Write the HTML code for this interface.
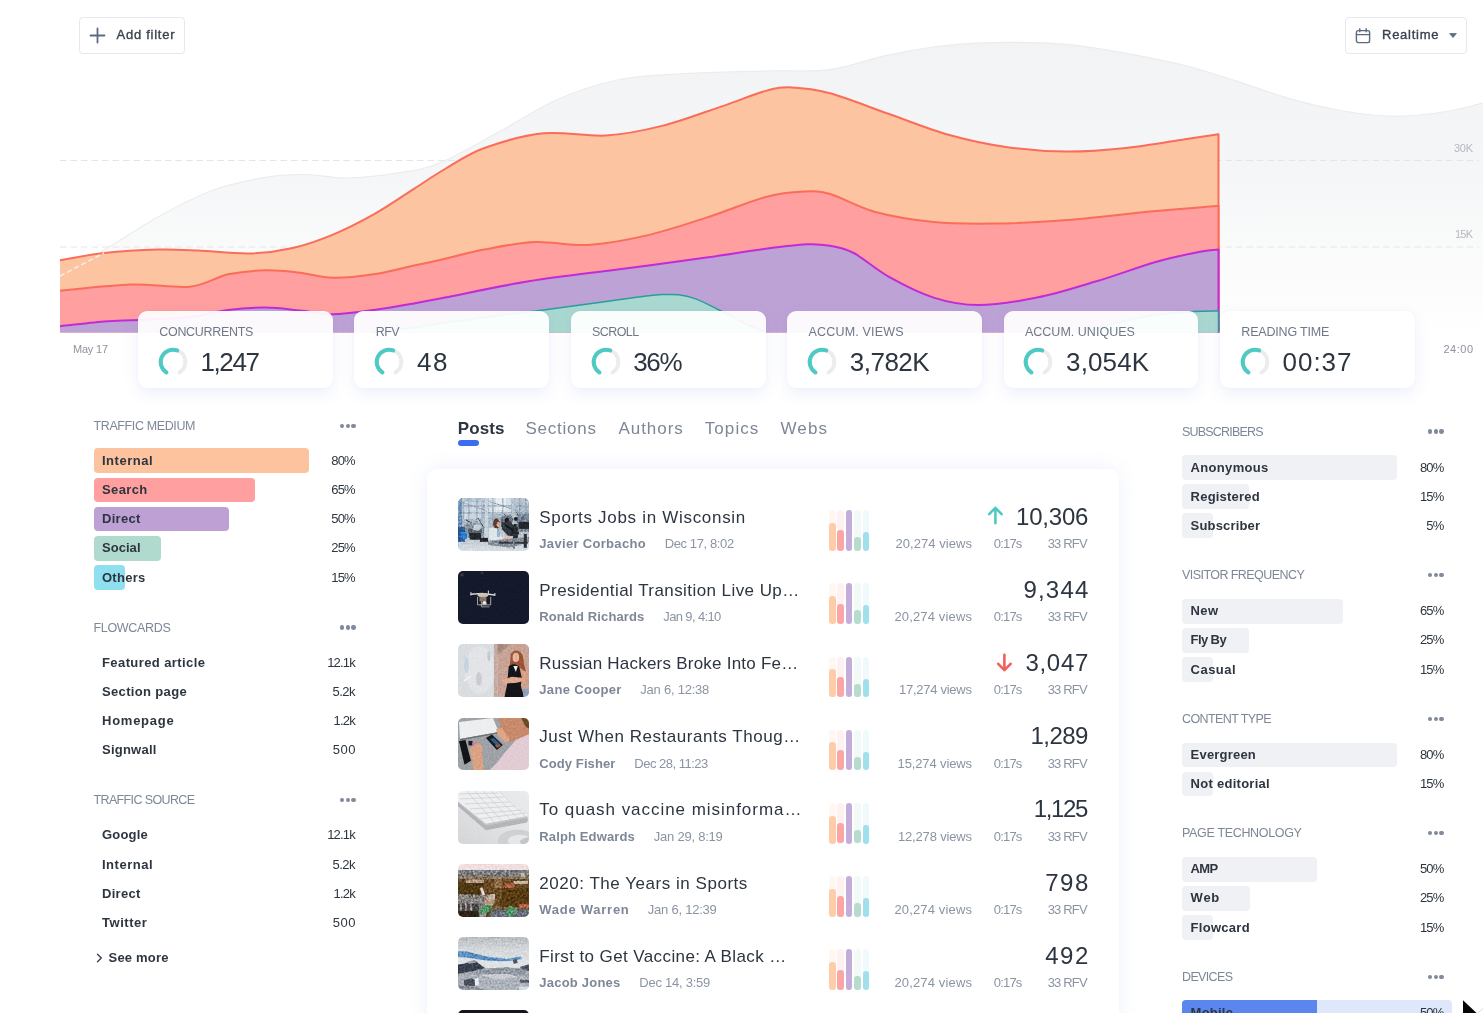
<!DOCTYPE html>
<html lang="en">
<head>
<meta charset="utf-8">
<title>Realtime dashboard</title>
<style>
*{box-sizing:border-box;margin:0;padding:0}
html,body{width:1483px;height:1013px;overflow:hidden;background:#fff}
body{font-family:"Liberation Sans",sans-serif;color:#2d3540}
#root{position:relative;width:1483px;height:1013px;overflow:hidden;background:#fff}
.t{position:absolute;line-height:20px;white-space:nowrap}
.a{position:absolute}
.btn{position:absolute;top:17px;height:37px;border:1px solid #e6e8eb;border-radius:4px;background:#fff}
.card{position:absolute;top:310.8px;width:194.8px;height:77.3px;border-radius:9px;background:rgba(255,255,255,.93);box-shadow:0 5px 16px rgba(86,110,220,.10),0 0 1px rgba(120,130,180,.2)}
.bar{position:absolute;height:24.8px;border-radius:4px}
.g{background:#f0f1f5}
.dots{position:absolute;width:16px;height:5px}
.dots i{position:absolute;top:0;width:4.3px;height:4.3px;border-radius:50%;background:#7f8a9c}
.th{position:absolute;left:457.8px;width:70.8px;height:52.8px;border-radius:5px;overflow:hidden}
.mb{position:absolute;width:6.5px;border-radius:3.3px}
</style>
</head>
<body>
<div id="root">
<svg class="a" style="left:0;top:0" width="1483" height="400" viewBox="0 0 1483 400">
<defs>
<linearGradient id="gg" x1="0" y1="40" x2="0" y2="335" gradientUnits="userSpaceOnUse">
<stop offset="0" stop-color="#f1f3f4"/><stop offset=".45" stop-color="#f5f6f7"/><stop offset="1" stop-color="#ffffff"/>
</linearGradient>
</defs>
<path d="M60.0,276.0C68.5,271.0 94.4,255.8 110.7,246.0C127.0,236.2 141.1,226.2 158.0,217.0C174.9,207.8 194.0,197.1 212.0,190.5C230.0,183.9 250.1,180.0 265.8,177.3C281.5,174.6 292.5,174.4 306.0,174.5C319.5,174.6 330.9,178.3 346.7,178.0C362.5,177.7 385.1,175.1 400.6,172.6C416.2,170.1 423.6,169.7 440.0,162.9C456.4,156.1 479.3,142.4 499.0,131.8C518.7,121.2 538.2,107.8 558.0,99.2C577.8,90.6 597.8,84.2 617.6,80.0C637.4,75.8 652.3,75.5 677.0,74.0C701.7,72.5 740.2,71.7 765.7,71.0C791.2,70.3 809.5,72.3 830.0,69.6C850.5,66.9 869.3,58.8 889.0,54.8C908.7,50.8 928.2,47.4 948.0,45.3C967.8,43.2 987.8,42.5 1007.6,42.4C1027.4,42.2 1047.3,42.6 1067.0,44.4C1086.7,46.2 1106.3,49.8 1126.0,53.3C1145.7,56.8 1166.7,60.9 1185.0,65.5C1203.3,70.1 1218.6,75.4 1236.0,80.9C1253.4,86.4 1271.8,93.6 1289.6,98.6C1307.4,103.6 1325.3,108.0 1343.0,111.0C1360.7,114.0 1378.2,116.4 1396.0,116.4C1413.8,116.4 1433.9,113.6 1449.6,111.0C1465.3,108.4 1483.3,102.7 1490.0,101.0L1490,332.5L60,332.5Z" fill="url(#gg)"/>
<path d="M60.0,276.0C68.5,271.0 94.4,255.8 110.7,246.0C127.0,236.2 141.1,226.2 158.0,217.0C174.9,207.8 194.0,197.1 212.0,190.5C230.0,183.9 250.1,180.0 265.8,177.3C281.5,174.6 292.5,174.4 306.0,174.5C319.5,174.6 330.9,178.3 346.7,178.0C362.5,177.7 385.1,175.1 400.6,172.6C416.2,170.1 423.6,169.7 440.0,162.9C456.4,156.1 479.3,142.4 499.0,131.8C518.7,121.2 538.2,107.8 558.0,99.2C577.8,90.6 597.8,84.2 617.6,80.0C637.4,75.8 652.3,75.5 677.0,74.0C701.7,72.5 740.2,71.7 765.7,71.0C791.2,70.3 809.5,72.3 830.0,69.6C850.5,66.9 869.3,58.8 889.0,54.8C908.7,50.8 928.2,47.4 948.0,45.3C967.8,43.2 987.8,42.5 1007.6,42.4C1027.4,42.2 1047.3,42.6 1067.0,44.4C1086.7,46.2 1106.3,49.8 1126.0,53.3C1145.7,56.8 1166.7,60.9 1185.0,65.5C1203.3,70.1 1218.6,75.4 1236.0,80.9C1253.4,86.4 1271.8,93.6 1289.6,98.6C1307.4,103.6 1325.3,108.0 1343.0,111.0C1360.7,114.0 1378.2,116.4 1396.0,116.4C1413.8,116.4 1433.9,113.6 1449.6,111.0C1465.3,108.4 1483.3,102.7 1490.0,101.0" fill="none" stroke="#ececee" stroke-width="1.2"/>
<path d="M60,160.5H1479M60,247H1479" stroke="#e3e5e7" stroke-width="1.2" stroke-dasharray="6.5 4" fill="none"/>
<path d="M60.0,260.3C67.3,259.1 87.7,254.8 104.0,253.0C120.3,251.2 142.3,249.9 158.0,249.5C173.7,249.1 182.7,249.8 198.0,250.5C213.3,251.2 233.8,253.9 249.6,253.5C265.4,253.1 278.8,251.2 292.7,248.0C306.6,244.8 319.5,240.2 333.0,234.6C346.5,229.0 360.2,222.0 373.7,214.4C387.2,206.8 402.1,196.4 414.0,188.8C425.9,181.2 433.3,175.8 445.0,169.0C456.7,162.2 468.0,153.9 484.4,148.0C500.8,142.1 523.4,135.4 543.6,133.3C563.8,131.2 586.1,136.8 605.8,135.6C625.5,134.4 642.8,130.7 662.0,125.9C681.2,121.1 703.7,112.4 721.0,106.6C738.3,100.8 753.9,94.1 765.7,90.9C777.5,87.7 781.3,87.0 792.0,87.4C802.7,87.8 813.8,88.9 830.0,93.3C846.2,97.7 869.3,107.1 889.0,114.0C908.7,120.9 928.6,129.2 948.4,134.7C968.2,140.2 987.8,144.4 1007.6,147.2C1027.4,150.0 1047.3,151.5 1067.0,151.6C1086.7,151.7 1106.3,150.1 1126.0,148.0C1145.7,145.9 1169.6,141.5 1185.0,139.2C1200.4,136.9 1212.9,135.0 1218.5,134.2L1218.5,332.5L60.0,332.5Z" fill="#fcc4a0"/><path d="M60.0,260.3C67.3,259.1 87.7,254.8 104.0,253.0C120.3,251.2 142.3,249.9 158.0,249.5C173.7,249.1 182.7,249.8 198.0,250.5C213.3,251.2 233.8,253.9 249.6,253.5C265.4,253.1 278.8,251.2 292.7,248.0C306.6,244.8 319.5,240.2 333.0,234.6C346.5,229.0 360.2,222.0 373.7,214.4C387.2,206.8 402.1,196.4 414.0,188.8C425.9,181.2 433.3,175.8 445.0,169.0C456.7,162.2 468.0,153.9 484.4,148.0C500.8,142.1 523.4,135.4 543.6,133.3C563.8,131.2 586.1,136.8 605.8,135.6C625.5,134.4 642.8,130.7 662.0,125.9C681.2,121.1 703.7,112.4 721.0,106.6C738.3,100.8 753.9,94.1 765.7,90.9C777.5,87.7 781.3,87.0 792.0,87.4C802.7,87.8 813.8,88.9 830.0,93.3C846.2,97.7 869.3,107.1 889.0,114.0C908.7,120.9 928.6,129.2 948.4,134.7C968.2,140.2 987.8,144.4 1007.6,147.2C1027.4,150.0 1047.3,151.5 1067.0,151.6C1086.7,151.7 1106.3,150.1 1126.0,148.0C1145.7,145.9 1169.6,141.5 1185.0,139.2C1200.4,136.9 1212.9,135.0 1218.5,134.2L1218.5,332.5" fill="none" stroke="#fa6d5a" stroke-width="2" stroke-linejoin="round"/>
<path d="M60.0,290.7C71.8,289.7 109.3,285.2 131.0,284.5C152.7,283.8 173.8,288.4 190.0,286.7C206.2,285.0 215.4,277.1 228.0,274.3C240.6,271.6 254.1,270.5 265.8,270.2C277.5,269.9 286.8,271.1 298.0,272.4C309.2,273.7 320.4,277.5 333.0,277.8C345.6,278.1 360.2,276.3 373.7,274.3C387.2,272.3 401.9,268.2 414.0,265.6C426.1,263.0 434.3,261.2 446.0,258.5C457.7,255.8 469.2,252.3 484.0,249.6C498.8,246.8 517.4,242.8 534.7,242.0C552.0,241.2 569.3,246.0 588.0,244.9C606.7,243.8 627.2,240.0 647.0,235.4C666.8,230.8 686.7,224.0 706.5,217.6C726.3,211.2 749.5,201.3 765.7,197.0C782.0,192.7 793.3,192.1 804.0,191.6C814.7,191.1 818.3,190.7 830.0,194.0C841.7,197.3 857.1,207.0 874.4,211.7C891.7,216.4 913.9,220.0 933.6,222.0C953.3,224.0 970.6,223.9 992.8,223.6C1015.0,223.3 1039.8,222.1 1067.0,220.0C1094.2,217.9 1130.5,213.4 1155.7,211.0C1181.0,208.6 1208.0,206.7 1218.5,205.8L1218.5,332.5L60.0,332.5Z" fill="#ff9f9f"/><path d="M60.0,290.7C71.8,289.7 109.3,285.2 131.0,284.5C152.7,283.8 173.8,288.4 190.0,286.7C206.2,285.0 215.4,277.1 228.0,274.3C240.6,271.6 254.1,270.5 265.8,270.2C277.5,269.9 286.8,271.1 298.0,272.4C309.2,273.7 320.4,277.5 333.0,277.8C345.6,278.1 360.2,276.3 373.7,274.3C387.2,272.3 401.9,268.2 414.0,265.6C426.1,263.0 434.3,261.2 446.0,258.5C457.7,255.8 469.2,252.3 484.0,249.6C498.8,246.8 517.4,242.8 534.7,242.0C552.0,241.2 569.3,246.0 588.0,244.9C606.7,243.8 627.2,240.0 647.0,235.4C666.8,230.8 686.7,224.0 706.5,217.6C726.3,211.2 749.5,201.3 765.7,197.0C782.0,192.7 793.3,192.1 804.0,191.6C814.7,191.1 818.3,190.7 830.0,194.0C841.7,197.3 857.1,207.0 874.4,211.7C891.7,216.4 913.9,220.0 933.6,222.0C953.3,224.0 970.6,223.9 992.8,223.6C1015.0,223.3 1039.8,222.1 1067.0,220.0C1094.2,217.9 1130.5,213.4 1155.7,211.0C1181.0,208.6 1208.0,206.7 1218.5,205.8L1218.5,332.5" fill="none" stroke="#fa6d5a" stroke-width="2" stroke-linejoin="round"/>
<path d="M60.0,326.3C67.3,325.5 90.8,322.6 104.0,321.5C117.2,320.4 124.7,320.8 139.0,320.0C153.3,319.2 175.2,318.7 190.0,317.0C204.8,315.3 215.4,311.6 228.0,310.0C240.6,308.4 253.8,307.4 265.8,307.5C277.8,307.6 288.8,309.4 300.0,310.5C311.2,311.6 320.7,314.3 333.0,314.2C345.3,314.1 360.2,311.8 373.7,310.0C387.2,308.2 402.1,305.5 414.0,303.4C425.9,301.3 425.9,301.2 445.0,297.5C464.1,293.8 500.0,286.0 528.8,281.3C557.6,276.6 588.0,273.4 617.6,269.5C647.2,265.6 681.8,261.1 706.5,257.6C731.2,254.1 749.0,250.9 765.7,248.7C782.5,246.5 796.3,244.8 807.0,244.3C817.7,243.8 822.2,244.4 830.0,245.8C837.8,247.2 843.9,247.8 853.7,253.0C863.5,258.2 875.7,269.5 889.0,276.9C902.3,284.3 918.8,292.9 933.6,297.6C948.4,302.3 960.8,305.0 978.0,305.0C995.2,305.0 1017.2,301.6 1037.0,297.6C1056.8,293.7 1076.7,287.2 1096.5,281.3C1116.3,275.4 1138.5,266.9 1155.7,262.0C1173.0,257.1 1189.5,253.8 1200.0,251.7C1210.5,249.6 1215.4,249.9 1218.5,249.6L1218.5,332.5L60.0,332.5Z" fill="#bda2d5"/><path d="M60.0,326.3C67.3,325.5 90.8,322.6 104.0,321.5C117.2,320.4 124.7,320.8 139.0,320.0C153.3,319.2 175.2,318.7 190.0,317.0C204.8,315.3 215.4,311.6 228.0,310.0C240.6,308.4 253.8,307.4 265.8,307.5C277.8,307.6 288.8,309.4 300.0,310.5C311.2,311.6 320.7,314.3 333.0,314.2C345.3,314.1 360.2,311.8 373.7,310.0C387.2,308.2 402.1,305.5 414.0,303.4C425.9,301.3 425.9,301.2 445.0,297.5C464.1,293.8 500.0,286.0 528.8,281.3C557.6,276.6 588.0,273.4 617.6,269.5C647.2,265.6 681.8,261.1 706.5,257.6C731.2,254.1 749.0,250.9 765.7,248.7C782.5,246.5 796.3,244.8 807.0,244.3C817.7,243.8 822.2,244.4 830.0,245.8C837.8,247.2 843.9,247.8 853.7,253.0C863.5,258.2 875.7,269.5 889.0,276.9C902.3,284.3 918.8,292.9 933.6,297.6C948.4,302.3 960.8,305.0 978.0,305.0C995.2,305.0 1017.2,301.6 1037.0,297.6C1056.8,293.7 1076.7,287.2 1096.5,281.3C1116.3,275.4 1138.5,266.9 1155.7,262.0C1173.0,257.1 1189.5,253.8 1200.0,251.7C1210.5,249.6 1215.4,249.9 1218.5,249.6L1218.5,332.5" fill="none" stroke="#c22bd6" stroke-width="2" stroke-linejoin="round"/>
<path d="M372.0,332.5C378.3,331.8 397.0,329.8 410.0,328.0C423.0,326.2 435.0,324.1 450.0,322.0C465.0,319.9 484.4,317.5 500.0,315.5C515.6,313.5 526.5,312.2 543.6,310.0C560.7,307.8 583.1,304.6 602.8,302.0C622.5,299.4 647.2,295.3 662.0,294.6C676.8,293.9 681.9,294.9 691.7,297.6C701.5,300.3 712.1,306.7 721.0,311.0C729.9,315.3 737.5,319.9 745.0,323.5C752.5,327.1 762.5,331.0 766.0,332.5L766.0,332.5L372.0,332.5Z" fill="#a9d8d0"/><path d="M372.0,332.5C378.3,331.8 397.0,329.8 410.0,328.0C423.0,326.2 435.0,324.1 450.0,322.0C465.0,319.9 484.4,317.5 500.0,315.5C515.6,313.5 526.5,312.2 543.6,310.0C560.7,307.8 583.1,304.6 602.8,302.0C622.5,299.4 647.2,295.3 662.0,294.6C676.8,293.9 681.9,294.9 691.7,297.6C701.5,300.3 712.1,306.7 721.0,311.0C729.9,315.3 737.5,319.9 745.0,323.5C752.5,327.1 762.5,331.0 766.0,332.5L766.0,332.5" fill="none" stroke="#2a9d9d" stroke-width="1.5" stroke-linejoin="round"/>
<path d="M1085.0,332.5C1090.8,330.8 1107.5,325.0 1120.0,322.0C1132.5,319.0 1147.7,316.2 1160.0,314.5C1172.3,312.8 1184.2,312.1 1194.0,311.5C1203.8,310.9 1214.4,311.1 1218.5,311.0L1218.5,332.5L1085.0,332.5Z" fill="#a9d8d0"/><path d="M1085.0,332.5C1090.8,330.8 1107.5,325.0 1120.0,322.0C1132.5,319.0 1147.7,316.2 1160.0,314.5C1172.3,312.8 1184.2,312.1 1194.0,311.5C1203.8,310.9 1214.4,311.1 1218.5,311.0L1218.5,332.5" fill="none" stroke="#2a9d9d" stroke-width="1.5" stroke-linejoin="round"/>
<path d="M60,276L104,253" stroke="#f3efee" stroke-width="1.5" stroke-dasharray="5 3" fill="none"/>
</svg>
<div class="t" style="top:339px;font-size:11px;color:#8e939c;letter-spacing:-0.21px;left:73.0px;">May 17</div>
<div class="t" style="top:339px;font-size:11px;color:#8e939c;letter-spacing:0.49px;right:9.5px;text-align:right;">24:00</div>
<div class="t" style="top:138px;font-size:11px;color:#b4b8bf;letter-spacing:-0.29px;right:10.3px;text-align:right;">30K</div>
<div class="t" style="top:224px;font-size:11px;color:#b4b8bf;letter-spacing:-0.74px;right:10.7px;text-align:right;">15K</div>
<div class="btn" style="left:79px;width:106px"></div>
<svg class="a" style="left:89px;top:27px" width="17" height="17" viewBox="0 0 17 17"><path d="M8.5 1.5v14M1.5 8.5h14" stroke="#5b6b80" stroke-width="1.8" stroke-linecap="round" fill="none"/></svg>
<div class="t" style="top:25px;font-size:13px;color:#3a4250;letter-spacing:0.74px;left:116.5px;-webkit-text-stroke:.35px #3a4250;">Add filter</div>
<div class="btn" style="left:1344.5px;width:122.5px"></div>
<svg class="a" style="left:1355px;top:27.5px" width="16" height="16" viewBox="0 0 16 16"><rect x="1.4" y="2.6" width="13.2" height="12" rx="1.8" fill="none" stroke="#5b6b80" stroke-width="1.4"/><path d="M1.4 6.6h13.2M4.8 .8v3M11.2 .8v3" stroke="#5b6b80" stroke-width="1.4" fill="none" stroke-linecap="round"/></svg>
<div class="t" style="top:25px;font-size:13px;color:#3a4250;letter-spacing:0.74px;left:1382.0px;-webkit-text-stroke:.35px #3a4250;">Realtime</div>
<svg class="a" style="left:1449.3px;top:32.8px" width="8" height="5.3" viewBox="0 0 9 6"><path d="M.6 .6h7.8L4.5 5.2z" fill="#5b6b80" stroke="#5b6b80" stroke-width=".8" stroke-linejoin="round"/></svg>
<div class="card" style="left:138.0px"></div>
<div class="t" style="top:322px;font-size:12.5px;color:#6e7888;letter-spacing:-0.32px;left:159.3px;">CONCURRENTS</div>
<svg class="a" style="left:156.7px;top:345.7px" width="32" height="32" viewBox="156.7 345.7 32 32"><path d="M176.91,350.14A12.3,12.3 0 0 1 179.22,372.13" fill="none" stroke="#ececee" stroke-width="4" stroke-linecap="round"/><path d="M166.18,372.13A12.3,12.3 0 0 1 176.91,350.14" fill="none" stroke="#4fc9c4" stroke-width="4" stroke-linecap="round"/></svg>
<div class="t" style="top:352px;font-size:26px;color:#2d3540;letter-spacing:-1.42px;left:200.5px;">1,247</div>
<div class="card" style="left:354.4px"></div>
<div class="t" style="top:322px;font-size:12.5px;color:#6e7888;letter-spacing:-0.50px;left:375.7px;">RFV</div>
<svg class="a" style="left:373.1px;top:345.7px" width="32" height="32" viewBox="373.1 345.7 32 32"><path d="M393.31,350.14A12.3,12.3 0 0 1 395.62,372.13" fill="none" stroke="#ececee" stroke-width="4" stroke-linecap="round"/><path d="M382.58,372.13A12.3,12.3 0 0 1 393.31,350.14" fill="none" stroke="#4fc9c4" stroke-width="4" stroke-linecap="round"/></svg>
<div class="t" style="top:352px;font-size:26px;color:#2d3540;letter-spacing:1.60px;left:416.9px;">48</div>
<div class="card" style="left:570.8px"></div>
<div class="t" style="top:322px;font-size:12.5px;color:#6e7888;letter-spacing:-0.60px;left:592.1px;">SCROLL</div>
<svg class="a" style="left:589.5px;top:345.7px" width="32" height="32" viewBox="589.5 345.7 32 32"><path d="M609.71,350.14A12.3,12.3 0 0 1 612.02,372.13" fill="none" stroke="#ececee" stroke-width="4" stroke-linecap="round"/><path d="M598.98,372.13A12.3,12.3 0 0 1 609.71,350.14" fill="none" stroke="#4fc9c4" stroke-width="4" stroke-linecap="round"/></svg>
<div class="t" style="top:352px;font-size:26px;color:#2d3540;letter-spacing:-1.42px;left:633.3px;">36%</div>
<div class="card" style="left:787.2px"></div>
<div class="t" style="top:322px;font-size:12.5px;color:#6e7888;letter-spacing:0.18px;left:808.5px;">ACCUM. VIEWS</div>
<svg class="a" style="left:805.9px;top:345.7px" width="32" height="32" viewBox="805.9 345.7 32 32"><path d="M826.11,350.14A12.3,12.3 0 0 1 828.42,372.13" fill="none" stroke="#ececee" stroke-width="4" stroke-linecap="round"/><path d="M815.38,372.13A12.3,12.3 0 0 1 826.11,350.14" fill="none" stroke="#4fc9c4" stroke-width="4" stroke-linecap="round"/></svg>
<div class="t" style="top:352px;font-size:26px;color:#2d3540;letter-spacing:-0.48px;left:849.7px;">3,782K</div>
<div class="card" style="left:1003.6px"></div>
<div class="t" style="top:322px;font-size:12.5px;color:#6e7888;letter-spacing:0.02px;left:1024.9px;">ACCUM. UNIQUES</div>
<svg class="a" style="left:1022.3px;top:345.7px" width="32" height="32" viewBox="1022.3 345.7 32 32"><path d="M1042.51,350.14A12.3,12.3 0 0 1 1044.82,372.13" fill="none" stroke="#ececee" stroke-width="4" stroke-linecap="round"/><path d="M1031.78,372.13A12.3,12.3 0 0 1 1042.51,350.14" fill="none" stroke="#4fc9c4" stroke-width="4" stroke-linecap="round"/></svg>
<div class="t" style="top:352px;font-size:26px;color:#2d3540;letter-spacing:0.12px;left:1066.1px;">3,054K</div>
<div class="card" style="left:1220.0px"></div>
<div class="t" style="top:322px;font-size:12.5px;color:#6e7888;letter-spacing:-0.19px;left:1241.3px;">READING TIME</div>
<svg class="a" style="left:1238.7px;top:345.7px" width="32" height="32" viewBox="1238.7 345.7 32 32"><path d="M1258.91,350.14A12.3,12.3 0 0 1 1261.22,372.13" fill="none" stroke="#ececee" stroke-width="4" stroke-linecap="round"/><path d="M1248.18,372.13A12.3,12.3 0 0 1 1258.91,350.14" fill="none" stroke="#4fc9c4" stroke-width="4" stroke-linecap="round"/></svg>
<div class="t" style="top:352px;font-size:26px;color:#2d3540;letter-spacing:0.98px;left:1282.5px;">00:37</div>
<div class="t" style="top:416px;font-size:12.5px;color:#7d8797;letter-spacing:-0.38px;left:93.5px;">TRAFFIC MEDIUM</div>
<div class="dots" style="left:340.0px;top:423.5px"><i style="left:0"></i><i style="left:5.65px"></i><i style="left:11.3px"></i></div>
<div class="bar" style="left:93.5px;top:448.4px;width:215.3px;background:#fdc39e"></div>
<div class="t" style="top:451px;font-size:13px;color:#2d3540;font-weight:700;letter-spacing:0.51px;left:102.0px;">Internal</div>
<div class="t" style="top:451px;font-size:13px;color:#2d3540;letter-spacing:-0.83px;right:1128.2px;text-align:right;">80%</div>
<div class="bar" style="left:93.5px;top:477.5px;width:161.4px;background:#ff9f9f"></div>
<div class="t" style="top:480px;font-size:13px;color:#2d3540;font-weight:700;letter-spacing:0.39px;left:102.0px;">Search</div>
<div class="t" style="top:480px;font-size:13px;color:#2d3540;letter-spacing:-0.83px;right:1128.2px;text-align:right;">65%</div>
<div class="bar" style="left:93.5px;top:506.7px;width:135.3px;background:#bea0d4"></div>
<div class="t" style="top:509px;font-size:13px;color:#2d3540;font-weight:700;letter-spacing:0.31px;left:102.0px;">Direct</div>
<div class="t" style="top:509px;font-size:13px;color:#2d3540;letter-spacing:-0.83px;right:1128.2px;text-align:right;">50%</div>
<div class="bar" style="left:93.5px;top:535.8px;width:67.5px;background:#b1dace"></div>
<div class="t" style="top:538px;font-size:13px;color:#2d3540;font-weight:700;letter-spacing:0.04px;left:102.0px;">Social</div>
<div class="t" style="top:538px;font-size:13px;color:#2d3540;letter-spacing:-0.83px;right:1128.2px;text-align:right;">25%</div>
<div class="bar" style="left:93.5px;top:565.0px;width:31.4px;background:#8fe0ee"></div>
<div class="t" style="top:568px;font-size:13px;color:#2d3540;font-weight:700;letter-spacing:0.26px;left:102.0px;">Others</div>
<div class="t" style="top:568px;font-size:13px;color:#2d3540;letter-spacing:-0.83px;right:1128.2px;text-align:right;">15%</div>
<div class="t" style="top:618px;font-size:12.5px;color:#7d8797;letter-spacing:-0.32px;left:93.5px;">FLOWCARDS</div>
<div class="dots" style="left:340.0px;top:625.4px"><i style="left:0"></i><i style="left:5.65px"></i><i style="left:11.3px"></i></div>
<div class="t" style="top:653px;font-size:13px;color:#2d3540;font-weight:700;letter-spacing:0.41px;left:102.0px;">Featured article</div>
<div class="t" style="top:653px;font-size:13px;color:#2d3540;letter-spacing:-0.83px;right:1128.2px;text-align:right;">12.1k</div>
<div class="t" style="top:682px;font-size:13px;color:#2d3540;font-weight:700;letter-spacing:0.34px;left:102.0px;">Section page</div>
<div class="t" style="top:682px;font-size:13px;color:#2d3540;letter-spacing:-0.46px;right:1127.9px;text-align:right;">5.2k</div>
<div class="t" style="top:711px;font-size:13px;color:#2d3540;font-weight:700;letter-spacing:0.75px;left:102.0px;">Homepage</div>
<div class="t" style="top:711px;font-size:13px;color:#2d3540;letter-spacing:-0.83px;right:1128.2px;text-align:right;">1.2k</div>
<div class="t" style="top:740px;font-size:13px;color:#2d3540;font-weight:700;letter-spacing:0.24px;left:102.0px;">Signwall</div>
<div class="t" style="top:740px;font-size:13px;color:#2d3540;letter-spacing:0.60px;right:1126.8px;text-align:right;">500</div>
<div class="t" style="top:790px;font-size:12.5px;color:#7d8797;letter-spacing:-0.63px;left:93.5px;">TRAFFIC SOURCE</div>
<div class="dots" style="left:340.0px;top:798.1px"><i style="left:0"></i><i style="left:5.65px"></i><i style="left:11.3px"></i></div>
<div class="t" style="top:825px;font-size:13px;color:#2d3540;font-weight:700;letter-spacing:0.18px;left:102.0px;">Google</div>
<div class="t" style="top:825px;font-size:13px;color:#2d3540;letter-spacing:-0.83px;right:1128.2px;text-align:right;">12.1k</div>
<div class="t" style="top:855px;font-size:13px;color:#2d3540;font-weight:700;letter-spacing:0.51px;left:102.0px;">Internal</div>
<div class="t" style="top:855px;font-size:13px;color:#2d3540;letter-spacing:-0.46px;right:1127.9px;text-align:right;">5.2k</div>
<div class="t" style="top:884px;font-size:13px;color:#2d3540;font-weight:700;letter-spacing:0.31px;left:102.0px;">Direct</div>
<div class="t" style="top:884px;font-size:13px;color:#2d3540;letter-spacing:-0.83px;right:1128.2px;text-align:right;">1.2k</div>
<div class="t" style="top:913px;font-size:13px;color:#2d3540;font-weight:700;letter-spacing:0.53px;left:102.0px;">Twitter</div>
<div class="t" style="top:913px;font-size:13px;color:#2d3540;letter-spacing:0.60px;right:1126.8px;text-align:right;">500</div>
<svg class="a" style="left:96px;top:953px" width="7" height="10" viewBox="0 0 7 10"><path d="M1.5 1.2L5.3 5 1.5 8.8" fill="none" stroke="#3a4250" stroke-width="1.4" stroke-linecap="round" stroke-linejoin="round"/></svg>
<div class="t" style="top:948px;font-size:13px;color:#2d3540;font-weight:700;letter-spacing:0.21px;left:108.5px;">See more</div>
<div class="t" style="top:422px;font-size:12.5px;color:#7d8797;letter-spacing:-0.81px;left:1182.0px;">SUBSCRIBERS</div>
<div class="dots" style="left:1428.2px;top:429.4px"><i style="left:0"></i><i style="left:5.65px"></i><i style="left:11.3px"></i></div>
<div class="bar g" style="left:1182px;top:455.1px;width:215px"></div>
<div class="t" style="top:458px;font-size:13px;color:#2d3540;font-weight:700;letter-spacing:0.32px;left:1190.6px;">Anonymous</div>
<div class="t" style="top:458px;font-size:13px;color:#2d3540;letter-spacing:-0.83px;right:39.6px;text-align:right;">80%</div>
<div class="bar g" style="left:1182px;top:484.2px;width:67.3px"></div>
<div class="t" style="top:487px;font-size:13px;color:#2d3540;font-weight:700;letter-spacing:0.21px;left:1190.6px;">Registered</div>
<div class="t" style="top:487px;font-size:13px;color:#2d3540;letter-spacing:-0.83px;right:39.6px;text-align:right;">15%</div>
<div class="bar g" style="left:1182px;top:513.4px;width:31px"></div>
<div class="t" style="top:516px;font-size:13px;color:#2d3540;font-weight:700;letter-spacing:0.17px;left:1190.6px;">Subscriber</div>
<div class="t" style="top:516px;font-size:13px;color:#2d3540;letter-spacing:-0.83px;right:39.6px;text-align:right;">5%</div>
<div class="t" style="top:565px;font-size:12.5px;color:#7d8797;letter-spacing:-0.56px;left:1182.0px;">VISITOR FREQUENCY</div>
<div class="dots" style="left:1428.2px;top:573.1px"><i style="left:0"></i><i style="left:5.65px"></i><i style="left:11.3px"></i></div>
<div class="bar g" style="left:1182px;top:598.9px;width:161.2px"></div>
<div class="t" style="top:601px;font-size:13px;color:#2d3540;font-weight:700;letter-spacing:0.38px;left:1190.6px;">New</div>
<div class="t" style="top:601px;font-size:13px;color:#2d3540;letter-spacing:-0.83px;right:39.6px;text-align:right;">65%</div>
<div class="bar g" style="left:1182px;top:628.0px;width:67.3px"></div>
<div class="t" style="top:630px;font-size:13px;color:#2d3540;font-weight:700;letter-spacing:-0.60px;left:1190.6px;">Fly By</div>
<div class="t" style="top:630px;font-size:13px;color:#2d3540;letter-spacing:-0.83px;right:39.6px;text-align:right;">25%</div>
<div class="bar g" style="left:1182px;top:657.2px;width:31px"></div>
<div class="t" style="top:660px;font-size:13px;color:#2d3540;font-weight:700;letter-spacing:0.47px;left:1190.6px;">Casual</div>
<div class="t" style="top:660px;font-size:13px;color:#2d3540;letter-spacing:-0.83px;right:39.6px;text-align:right;">15%</div>
<div class="t" style="top:709px;font-size:12.5px;color:#7d8797;letter-spacing:-0.59px;left:1182.0px;">CONTENT TYPE</div>
<div class="dots" style="left:1428.2px;top:716.8px"><i style="left:0"></i><i style="left:5.65px"></i><i style="left:11.3px"></i></div>
<div class="bar g" style="left:1182px;top:742.5px;width:215px"></div>
<div class="t" style="top:745px;font-size:13px;color:#2d3540;font-weight:700;letter-spacing:0.20px;left:1190.6px;">Evergreen</div>
<div class="t" style="top:745px;font-size:13px;color:#2d3540;letter-spacing:-0.83px;right:39.6px;text-align:right;">80%</div>
<div class="bar g" style="left:1182px;top:771.6px;width:31px"></div>
<div class="t" style="top:774px;font-size:13px;color:#2d3540;font-weight:700;letter-spacing:0.27px;left:1190.6px;">Not editorial</div>
<div class="t" style="top:774px;font-size:13px;color:#2d3540;letter-spacing:-0.83px;right:39.6px;text-align:right;">15%</div>
<div class="t" style="top:823px;font-size:12.5px;color:#7d8797;letter-spacing:-0.33px;left:1182.0px;">PAGE TECHNOLOGY</div>
<div class="dots" style="left:1428.2px;top:831.1px"><i style="left:0"></i><i style="left:5.65px"></i><i style="left:11.3px"></i></div>
<div class="bar g" style="left:1182px;top:856.9px;width:135px"></div>
<div class="t" style="top:859px;font-size:13px;color:#2d3540;font-weight:700;letter-spacing:-0.69px;left:1190.6px;">AMP</div>
<div class="t" style="top:859px;font-size:13px;color:#2d3540;letter-spacing:-0.83px;right:39.6px;text-align:right;">50%</div>
<div class="bar g" style="left:1182px;top:886.0px;width:67.5px"></div>
<div class="t" style="top:888px;font-size:13px;color:#2d3540;font-weight:700;letter-spacing:0.75px;left:1190.6px;">Web</div>
<div class="t" style="top:888px;font-size:13px;color:#2d3540;letter-spacing:-0.83px;right:39.6px;text-align:right;">25%</div>
<div class="bar g" style="left:1182px;top:915.2px;width:31px"></div>
<div class="t" style="top:918px;font-size:13px;color:#2d3540;font-weight:700;letter-spacing:0.28px;left:1190.6px;">Flowcard</div>
<div class="t" style="top:918px;font-size:13px;color:#2d3540;letter-spacing:-0.83px;right:39.6px;text-align:right;">15%</div>
<div class="t" style="top:967px;font-size:12.5px;color:#7d8797;letter-spacing:-0.65px;left:1182.0px;">DEVICES</div>
<div class="dots" style="left:1428.2px;top:974.9px"><i style="left:0"></i><i style="left:5.65px"></i><i style="left:11.3px"></i></div>
<div class="bar" style="left:1182px;top:1000px;width:270.3px;background:#dfe7fb"></div>
<div class="bar" style="left:1182px;top:1000px;width:135px;background:#5b86ee;border-radius:4px 0 0 4px"></div>
<div class="t" style="top:1003px;font-size:13px;color:#2d3540;font-weight:700;letter-spacing:0.23px;left:1190.6px;">Mobile</div>
<div class="t" style="top:1003px;font-size:13px;color:#2d3540;letter-spacing:-0.83px;right:39.6px;text-align:right;">50%</div>
<svg class="a" style="left:1460px;top:998px" width="23" height="15" viewBox="1460 998 23 15"><path d="M1463,1000.3V1013H1476.6Z" fill="#050507"/><path d="M1477.5,1013L1483,1008.5" stroke="#ddd" stroke-width="1" fill="none"/></svg>
<div class="t" style="top:419px;font-size:17px;color:#2d3540;font-weight:700;letter-spacing:0.08px;left:457.8px;">Posts</div>
<div class="t" style="top:419px;font-size:17px;color:#7d8797;letter-spacing:0.76px;left:525.5px;">Sections</div>
<div class="t" style="top:419px;font-size:17px;color:#7d8797;letter-spacing:0.94px;left:618.5px;">Authors</div>
<div class="t" style="top:419px;font-size:17px;color:#7d8797;letter-spacing:1.10px;left:704.7px;">Topics</div>
<div class="t" style="top:419px;font-size:17px;color:#7d8797;letter-spacing:1.15px;left:780.4px;">Webs</div>
<div class="a" style="left:458px;top:440.4px;width:20.8px;height:5.6px;border-radius:3px;background:#3a6df0"></div>
<div class="a" style="left:427px;top:469px;width:692px;height:600px;border-radius:11px;background:#fff;box-shadow:0 0 20px rgba(92,116,230,.10)"></div>
<div class="th" style="top:498.0px"><svg width="70.8" height="52.8" viewBox="0 0 71 53" preserveAspectRatio="none" style="display:block"><defs><filter id="tb1" x="0" y="0" width="1" height="1" color-interpolation-filters="sRGB"><feGaussianBlur in="SourceGraphic" stdDeviation="0.8" result="b"/><feTurbulence type="fractalNoise" baseFrequency="0.55" numOctaves="2" seed="3" result="t"/><feColorMatrix in="t" type="matrix" values=".6 .6 .6 0 -.4 .6 .6 .6 0 -.4 .6 .6 .6 0 -.4 0 0 0 0 0.3" result="g"/><feComponentTransfer in="g" result="g2"><feFuncR type="linear" slope="2" intercept="-0.52"/><feFuncG type="linear" slope="2" intercept="-0.52"/><feFuncB type="linear" slope="2" intercept="-0.52"/></feComponentTransfer><feBlend in="g2" in2="b" mode="overlay"/></filter></defs><g filter="url(#tb1)">
<linearGradient id="t1g" x1="0" y1="0" x2="0" y2="1"><stop offset="0" stop-color="#b9c9d6"/><stop offset=".45" stop-color="#a9b8c6"/><stop offset=".78" stop-color="#c4ccd4"/><stop offset="1" stop-color="#dfe3e7"/></linearGradient>
<rect x="-3" y="-3" width="77" height="59" fill="url(#t1g)"/>
<rect x="-2" y="-2" width="6" height="40" fill="#6f90b4"/>
<rect x="6" y="4" width="17" height="17" fill="#cbd8e3"/>
<rect x="31" y="-1" width="22" height="17" fill="#d5e0e9"/>
<rect x="38" y="0" width="10" height="12" fill="#e6eef3"/>
<g stroke="#8c9aa8" stroke-width=".9" fill="none"><path d="M5 8h66M5 15h66M11 0v30M19 0v32M35 0v22M45 0v20M62 0v30M68 0v30M0 3l30 10M30 3l30 10"/></g>
<g stroke="#4e5864" stroke-width="1" fill="none"><path d="M8 22l10 6M20 20l6 10M46 16l10 10M58 14l8 8M63 18v16"/></g>
<path d="M6 27q6-4 14-1l6 4v10H8z" fill="#8a95a1"/>
<path d="M11 35h12v7H12z" fill="#23272e"/><path d="M10 31h14v4H10z" fill="#59626d"/>
<path d="M16 27q5-2 8 2l-3 4-6-1z" fill="#c5cdd5"/>
<path d="M0 29h7v15H0z" fill="#2a5c94"/>
<rect x="2.500" y="34" width="6.500" height="7" fill="#2f7fd0"/>
<rect x="27" y="-2" width="3.200" height="44" fill="#c9d3dc"/>
<rect x="54" y="-2" width="2.600" height="46" fill="#bcc5ce"/>
<path d="M43 19l10-2 3 5-5 7h-8z" fill="#6b7480"/>
<path d="M44 24l8-1 5 6-2 9h-5l-6-7z" fill="#343941"/><path d="M52 38h7v-12h-3z" fill="#22262c"/>
<path d="M47 27l14 9" stroke="#15181d" stroke-width="2"/>
<path d="M59 16h13v18H59z" fill="#7f8994"/>
<path d="M61 24h11v7H61z" fill="#23272d"/>
<path d="M56 28l4 1v13h-5z" fill="#292d34"/>
<circle cx="49" cy="22" r="2.200" fill="#1b1e24"/><circle cx="58" cy="21" r="2" fill="#20242a"/><circle cx="65" cy="20" r="1.600" fill="#3a6ea8"/>
<ellipse cx="38.500" cy="25.500" rx="3.300" ry="5.200" fill="#5b3b2b"/>
<ellipse cx="40.500" cy="26.500" rx="1.800" ry="2.600" fill="#d9a78e"/>
<path d="M31 31q4-3 8 0l5 8 8 2v3H33q-3-6-2-13z" fill="#dfe6ec"/>
<path d="M39 31h3v8h-3z" fill="#9db5cc"/>
<path d="M45 40l9-1 1 3-10 1z" fill="#e8b7a6"/>
<path d="M22 40h8v4h-8z" fill="#23262c"/>
<path d="M30 43l42-4v5l-20 6-22-3z" fill="#88919a"/>
<path d="M40 44h30v2H42z" fill="#353a42"/>
<rect x="55" y="43" width="2" height="8" fill="#7d868f"/>
<path d="M66 36h3v14h-3z" fill="#2c3037"/>
</g></svg></div>
<div class="t" style="top:508px;font-size:17px;color:#2d3540;letter-spacing:0.70px;left:539.3px;">Sports Jobs in Wisconsin</div>
<div class="t" style="top:534px;font-size:13px;color:#7d8797;font-weight:700;letter-spacing:0.32px;left:539.3px;">Javier Corbacho</div>
<div class="t" style="top:534px;font-size:13px;color:#8b94a3;letter-spacing:-0.39px;left:664.7px;">Dec 17, 8:02</div>
<div class="mb" style="left:829.0px;top:510.2px;height:40.5px;background:#fdcdaa;opacity:.16"></div>
<div class="mb" style="left:829.0px;top:522.7px;height:28.0px;background:#fdcdaa"></div>
<div class="mb" style="left:837.4px;top:510.2px;height:40.5px;background:#fca5a5;opacity:.16"></div>
<div class="mb" style="left:837.4px;top:530.3px;height:20.4px;background:#fca5a5"></div>
<div class="mb" style="left:845.8px;top:510.2px;height:40.5px;background:#c4addb;opacity:.16"></div>
<div class="mb" style="left:845.8px;top:510.2px;height:40.5px;background:#c4addb"></div>
<div class="mb" style="left:854.1px;top:510.2px;height:40.5px;background:#b5dccf;opacity:.16"></div>
<div class="mb" style="left:854.1px;top:537.1px;height:13.6px;background:#b5dccf"></div>
<div class="mb" style="left:862.5px;top:510.2px;height:40.5px;background:#9fe0ec;opacity:.16"></div>
<div class="mb" style="left:862.5px;top:532.2px;height:18.5px;background:#9fe0ec"></div>
<div class="t" style="top:534px;font-size:13px;color:#8b94a3;letter-spacing:0.06px;right:510.9px;text-align:right;">20,274 views</div>
<div class="t" style="top:534px;font-size:13px;color:#8b94a3;letter-spacing:-0.83px;right:461.5px;text-align:right;">0:17s</div>
<div class="t" style="top:534px;font-size:13px;color:#8b94a3;letter-spacing:-0.83px;right:396.2px;text-align:right;">33 RFV</div>
<div class="t" style="top:507px;font-size:24px;color:#2d3540;letter-spacing:-0.20px;right:394.8px;text-align:right;">10,306</div>
<svg class="a" style="left:986.6px;top:506.4px" width="17" height="19" viewBox="0 0 17 19"><path d="M8.4 17.2V2.2M2.2 8.2L8.4 1.8 14.6 8.2" fill="none" stroke="#4fc9c4" stroke-width="2.6" stroke-linecap="round" stroke-linejoin="round"/></svg>
<div class="th" style="top:571.2px"><svg width="70.8" height="52.8" viewBox="0 0 71 53" preserveAspectRatio="none" style="display:block"><defs><filter id="tb2" x="0" y="0" width="1" height="1" color-interpolation-filters="sRGB"><feGaussianBlur in="SourceGraphic" stdDeviation="0.5" result="b"/><feTurbulence type="fractalNoise" baseFrequency="0.6" numOctaves="2" seed="4" result="t"/><feColorMatrix in="t" type="matrix" values=".6 .6 .6 0 -.4 .6 .6 .6 0 -.4 .6 .6 .6 0 -.4 0 0 0 0 0.12" result="g"/><feComponentTransfer in="g" result="g2"><feFuncR type="linear" slope="2" intercept="-0.52"/><feFuncG type="linear" slope="2" intercept="-0.52"/><feFuncB type="linear" slope="2" intercept="-0.52"/></feComponentTransfer><feBlend in="g2" in2="b" mode="overlay"/></filter></defs><g filter="url(#tb2)">
<rect x="-3" y="-3" width="77" height="59" fill="#141a2b"/>
<circle cx="4" cy="4" r="1.800" fill="#3d3a3a"/><circle cx="24" cy="2" r="1.500" fill="#33313a"/>
<path d="M12.500 23.300l12-.8 12.500 1.500" stroke="#d9d6d2" stroke-width="1.500" fill="none"/>
<path d="M13 21v3.500M30.500 19.500v4M37 22v3" stroke="#cfcfd4" stroke-width="1.100" fill="none"/>
<ellipse cx="25" cy="24.300" rx="5.500" ry="2.200" fill="#cfc3b8"/>
<path d="M19.600 26v8h13.200v-8" stroke="#bdb5ae" stroke-width=".9" fill="none"/>
<path d="M23.500 30v6h8" stroke="#bdb5ae" stroke-width=".8" fill="none"/>
<rect x="21.500" y="26" width="7" height="4.500" fill="#8b7668"/>
<ellipse cx="26.500" cy="32" rx="2.200" ry="2" fill="#e8e6e4"/>
</g></svg></div>
<div class="t" style="top:581px;font-size:17px;color:#2d3540;letter-spacing:0.43px;left:539.3px;">Presidential Transition Live Up…</div>
<div class="t" style="top:607px;font-size:13px;color:#7d8797;font-weight:700;letter-spacing:0.12px;left:539.3px;">Ronald Richards</div>
<div class="t" style="top:607px;font-size:13px;color:#8b94a3;letter-spacing:-0.63px;left:663.3px;">Jan 9, 4:10</div>
<div class="mb" style="left:829.0px;top:583.4px;height:40.5px;background:#fdcdaa;opacity:.16"></div>
<div class="mb" style="left:829.0px;top:595.9px;height:28.0px;background:#fdcdaa"></div>
<div class="mb" style="left:837.4px;top:583.4px;height:40.5px;background:#fca5a5;opacity:.16"></div>
<div class="mb" style="left:837.4px;top:603.5px;height:20.4px;background:#fca5a5"></div>
<div class="mb" style="left:845.8px;top:583.4px;height:40.5px;background:#c4addb;opacity:.16"></div>
<div class="mb" style="left:845.8px;top:583.4px;height:40.5px;background:#c4addb"></div>
<div class="mb" style="left:854.1px;top:583.4px;height:40.5px;background:#b5dccf;opacity:.16"></div>
<div class="mb" style="left:854.1px;top:610.3px;height:13.6px;background:#b5dccf"></div>
<div class="mb" style="left:862.5px;top:583.4px;height:40.5px;background:#9fe0ec;opacity:.16"></div>
<div class="mb" style="left:862.5px;top:605.4px;height:18.5px;background:#9fe0ec"></div>
<div class="t" style="top:607px;font-size:13px;color:#8b94a3;letter-spacing:0.15px;right:510.9px;text-align:right;">20,274 views</div>
<div class="t" style="top:607px;font-size:13px;color:#8b94a3;letter-spacing:-0.83px;right:461.5px;text-align:right;">0:17s</div>
<div class="t" style="top:607px;font-size:13px;color:#8b94a3;letter-spacing:-0.83px;right:396.2px;text-align:right;">33 RFV</div>
<div class="t" style="top:580px;font-size:24px;color:#2d3540;letter-spacing:1.23px;right:393.4px;text-align:right;">9,344</div>
<div class="th" style="top:644.4px"><svg width="70.8" height="52.8" viewBox="0 0 71 53" preserveAspectRatio="none" style="display:block"><defs><filter id="tb3" x="0" y="0" width="1" height="1" color-interpolation-filters="sRGB"><feGaussianBlur in="SourceGraphic" stdDeviation="0.65" result="b"/><feTurbulence type="fractalNoise" baseFrequency="0.5" numOctaves="2" seed="5" result="t"/><feColorMatrix in="t" type="matrix" values=".6 .6 .6 0 -.4 .6 .6 .6 0 -.4 .6 .6 .6 0 -.4 0 0 0 0 0.15" result="g"/><feComponentTransfer in="g" result="g2"><feFuncR type="linear" slope="2" intercept="-0.52"/><feFuncG type="linear" slope="2" intercept="-0.52"/><feFuncB type="linear" slope="2" intercept="-0.52"/></feComponentTransfer><feBlend in="g2" in2="b" mode="overlay"/></filter></defs><g filter="url(#tb3)">
<rect x="-3" y="-3" width="77" height="59" fill="#dadde0"/>
<ellipse cx="22" cy="26" rx="15" ry="24" fill="#e2e4e7"/>
<ellipse cx="8.500" cy="21" rx="2.200" ry="8" fill="#c3d3df"/>
<ellipse cx="21" cy="35" rx="3" ry="7" fill="#b9bec4" opacity=".6"/>
<ellipse cx="31" cy="12" rx="1.500" ry="5" fill="#b9bdc4" opacity=".7"/>
<path d="M6 37l7-5" stroke="#f2f3f4" stroke-width="1.500"/>
<rect x="36" y="-3" width="3.500" height="59" fill="#c4aca3"/>
<rect x="39.500" y="-3" width="35" height="59" fill="#c8a496"/>
<path d="M39.500 -3h16l-16 14z" fill="#a98b80"/>
<path d="M53 10q3-5 8-3 5 3 5 12l3 12-6 5-4-8-8 2z" fill="#9b5535"/>
<ellipse cx="58" cy="13.500" rx="3.300" ry="4.600" fill="#e8b69e"/>
<path d="M62 24l7 4 1 12-6 1z" fill="#d99f84"/>
<path d="M51 22l5-2 5 2 3 12-1 8 4 14H46l3-14z" fill="#14151b"/>
<path d="M55.500 22l2.500 6 2-6z" fill="#eee"/>
<path d="M44 36l10-3 10 1 3 3-8 2-14 1z" fill="#e2aa90"/>
<path d="M65 45h9v11h-8z" fill="#8ea2ba"/>
</g></svg></div>
<div class="t" style="top:654px;font-size:17px;color:#2d3540;letter-spacing:0.23px;left:539.3px;">Russian Hackers Broke Into Fe…</div>
<div class="t" style="top:680px;font-size:13px;color:#7d8797;font-weight:700;letter-spacing:0.33px;left:539.3px;">Jane Cooper</div>
<div class="t" style="top:680px;font-size:13px;color:#8b94a3;letter-spacing:-0.23px;left:640.3px;">Jan 6, 12:38</div>
<div class="mb" style="left:829.0px;top:656.6px;height:40.5px;background:#fdcdaa;opacity:.16"></div>
<div class="mb" style="left:829.0px;top:669.1px;height:28.0px;background:#fdcdaa"></div>
<div class="mb" style="left:837.4px;top:656.6px;height:40.5px;background:#fca5a5;opacity:.16"></div>
<div class="mb" style="left:837.4px;top:676.7px;height:20.4px;background:#fca5a5"></div>
<div class="mb" style="left:845.8px;top:656.6px;height:40.5px;background:#c4addb;opacity:.16"></div>
<div class="mb" style="left:845.8px;top:656.6px;height:40.5px;background:#c4addb"></div>
<div class="mb" style="left:854.1px;top:656.6px;height:40.5px;background:#b5dccf;opacity:.16"></div>
<div class="mb" style="left:854.1px;top:683.5px;height:13.6px;background:#b5dccf"></div>
<div class="mb" style="left:862.5px;top:656.6px;height:40.5px;background:#9fe0ec;opacity:.16"></div>
<div class="mb" style="left:862.5px;top:678.6px;height:18.5px;background:#9fe0ec"></div>
<div class="t" style="top:680px;font-size:13px;color:#8b94a3;letter-spacing:-0.26px;right:511.3px;text-align:right;">17,274 views</div>
<div class="t" style="top:680px;font-size:13px;color:#8b94a3;letter-spacing:-0.83px;right:461.5px;text-align:right;">0:17s</div>
<div class="t" style="top:680px;font-size:13px;color:#8b94a3;letter-spacing:-0.83px;right:396.2px;text-align:right;">33 RFV</div>
<div class="t" style="top:653px;font-size:24px;color:#2d3540;letter-spacing:0.73px;right:393.9px;text-align:right;">3,047</div>
<svg class="a" style="left:996.0px;top:652.8px" width="17" height="19" viewBox="0 0 17 19"><path d="M8.4 1.8V16.8M2.2 10.8L8.4 17.2 14.6 10.8" fill="none" stroke="#f2605a" stroke-width="2.6" stroke-linecap="round" stroke-linejoin="round"/></svg>
<div class="th" style="top:717.6px"><svg width="70.8" height="52.8" viewBox="0 0 71 53" preserveAspectRatio="none" style="display:block"><defs><filter id="tb4" x="0" y="0" width="1" height="1" color-interpolation-filters="sRGB"><feGaussianBlur in="SourceGraphic" stdDeviation="0.6" result="b"/><feTurbulence type="fractalNoise" baseFrequency="0.5" numOctaves="2" seed="6" result="t"/><feColorMatrix in="t" type="matrix" values=".6 .6 .6 0 -.4 .6 .6 .6 0 -.4 .6 .6 .6 0 -.4 0 0 0 0 0.1" result="g"/><feComponentTransfer in="g" result="g2"><feFuncR type="linear" slope="2" intercept="-0.52"/><feFuncG type="linear" slope="2" intercept="-0.52"/><feFuncB type="linear" slope="2" intercept="-0.52"/></feComponentTransfer><feBlend in="g2" in2="b" mode="overlay"/></filter></defs><g filter="url(#tb4)">
<rect x="-3" y="-3" width="77" height="59" fill="#9fa3a7"/>
<path d="M1 4l34-4 6 14L2 21z" fill="#eceef0"/>
<path d="M2 21l39-7 .5 1.200L2 22.500z" fill="#6d6f72"/>
<path d="M1 23l6.500-1L13 43l-6.500 4z" fill="#131416"/>
<rect x="10.500" y="23" width="4" height="4.500" fill="#1b1c20"/>
<path d="M28 20l6-3.500 11 10.500-6 5z" fill="#171a22"/>
<path d="M32 21l4-1 6 6-3 2z" fill="#2d5f86"/><path d="M37 27l5-1 1 2-4 2z" fill="#a0583a"/>
<path d="M12 31l7-6 5 2 .5 14 2 15H16l-2-13z" fill="#dba283"/>
<path d="M14 25.500l3-1.500 1 2-3 1.500z" fill="#e86aa8"/>
<path d="M40 -3h34v19l-16 6-8 2-6-10z" fill="#c98a6c"/>
<path d="M62 -3h12v15l-6-3z" fill="#6b4a2a"/>
<path d="M38 11l6-1 8 12-4 3-8-8z" fill="#dfa686"/>
<path d="M74 15l-16 7-12 14-6 8-12 12h46z" fill="#e2ccd3"/>
</g></svg></div>
<div class="t" style="top:727px;font-size:17px;color:#2d3540;letter-spacing:0.54px;left:539.3px;">Just When Restaurants Thoug…</div>
<div class="t" style="top:754px;font-size:13px;color:#7d8797;font-weight:700;letter-spacing:0.09px;left:539.3px;">Cody Fisher</div>
<div class="t" style="top:754px;font-size:13px;color:#8b94a3;letter-spacing:-0.50px;left:634.3px;">Dec 28, 11:23</div>
<div class="mb" style="left:829.0px;top:729.8px;height:40.5px;background:#fdcdaa;opacity:.16"></div>
<div class="mb" style="left:829.0px;top:742.3px;height:28.0px;background:#fdcdaa"></div>
<div class="mb" style="left:837.4px;top:729.8px;height:40.5px;background:#fca5a5;opacity:.16"></div>
<div class="mb" style="left:837.4px;top:749.9px;height:20.4px;background:#fca5a5"></div>
<div class="mb" style="left:845.8px;top:729.8px;height:40.5px;background:#c4addb;opacity:.16"></div>
<div class="mb" style="left:845.8px;top:729.8px;height:40.5px;background:#c4addb"></div>
<div class="mb" style="left:854.1px;top:729.8px;height:40.5px;background:#b5dccf;opacity:.16"></div>
<div class="mb" style="left:854.1px;top:756.7px;height:13.6px;background:#b5dccf"></div>
<div class="mb" style="left:862.5px;top:729.8px;height:40.5px;background:#9fe0ec;opacity:.16"></div>
<div class="mb" style="left:862.5px;top:751.8px;height:18.5px;background:#9fe0ec"></div>
<div class="t" style="top:754px;font-size:13px;color:#8b94a3;letter-spacing:-0.13px;right:511.1px;text-align:right;">15,274 views</div>
<div class="t" style="top:754px;font-size:13px;color:#8b94a3;letter-spacing:-0.83px;right:461.5px;text-align:right;">0:17s</div>
<div class="t" style="top:754px;font-size:13px;color:#8b94a3;letter-spacing:-0.83px;right:396.2px;text-align:right;">33 RFV</div>
<div class="t" style="top:726px;font-size:24px;color:#2d3540;letter-spacing:-0.52px;right:395.1px;text-align:right;">1,289</div>
<div class="th" style="top:790.8px"><svg width="70.8" height="52.8" viewBox="0 0 71 53" preserveAspectRatio="none" style="display:block"><defs><filter id="tb5" x="0" y="0" width="1" height="1" color-interpolation-filters="sRGB"><feGaussianBlur in="SourceGraphic" stdDeviation="0.6" result="b"/><feTurbulence type="fractalNoise" baseFrequency="0.5" numOctaves="2" seed="7" result="t"/><feColorMatrix in="t" type="matrix" values=".6 .6 .6 0 -.4 .6 .6 .6 0 -.4 .6 .6 .6 0 -.4 0 0 0 0 0.06" result="g"/><feComponentTransfer in="g" result="g2"><feFuncR type="linear" slope="2" intercept="-0.52"/><feFuncG type="linear" slope="2" intercept="-0.52"/><feFuncB type="linear" slope="2" intercept="-0.52"/></feComponentTransfer><feBlend in="g2" in2="b" mode="overlay"/></filter></defs><g filter="url(#tb5)">
<linearGradient id="t5g" x1="0" y1="1" x2="1" y2="0"><stop offset="0" stop-color="#d3d4d6"/><stop offset=".6" stop-color="#e4e5e7"/><stop offset="1" stop-color="#ebecee"/></linearGradient>
<rect x="-3" y="-3" width="77" height="59" fill="url(#t5g)"/>
<path d="M-2 -2h41l31 28-1 5-41 8-30-27z" fill="#c2c4c7"/>
<path d="M-2 -3h41l31 28-42 8-30-24z" fill="#eeeff0"/>
<g stroke="#c9cbce" stroke-width=".7" fill="none">
<path d="M-2 3l43-1M2 8l44-2M7 13l45-2M12 18l46-3M17 23l47-4M22 28l46-6"/>
<path d="M6 -3l30 34M14 -3l30 33M22 -3l30 31M30 -3l30 30M38 -3l30 29"/>
</g>
<path d="M-2 10l30 25 41-8 1.500 1.500-1.500 3-41 8-30-26z" fill="#b3b5b9"/>
<ellipse cx="60" cy="50" rx="20" ry="11" fill="#cfd0d2"/>
<ellipse cx="62" cy="50" rx="12" ry="6" fill="#e6e7e8"/>
<path d="M62 50q6-5 12-3v8H64z" fill="#c4c5c8"/>
</g></svg></div>
<div class="t" style="top:800px;font-size:17px;color:#2d3540;letter-spacing:0.96px;left:539.3px;">To quash vaccine misinforma…</div>
<div class="t" style="top:827px;font-size:13px;color:#7d8797;font-weight:700;letter-spacing:0.13px;left:539.3px;">Ralph Edwards</div>
<div class="t" style="top:827px;font-size:13px;color:#8b94a3;letter-spacing:-0.23px;left:653.8px;">Jan 29, 8:19</div>
<div class="mb" style="left:829.0px;top:803.0px;height:40.5px;background:#fdcdaa;opacity:.16"></div>
<div class="mb" style="left:829.0px;top:815.5px;height:28.0px;background:#fdcdaa"></div>
<div class="mb" style="left:837.4px;top:803.0px;height:40.5px;background:#fca5a5;opacity:.16"></div>
<div class="mb" style="left:837.4px;top:823.1px;height:20.4px;background:#fca5a5"></div>
<div class="mb" style="left:845.8px;top:803.0px;height:40.5px;background:#c4addb;opacity:.16"></div>
<div class="mb" style="left:845.8px;top:803.0px;height:40.5px;background:#c4addb"></div>
<div class="mb" style="left:854.1px;top:803.0px;height:40.5px;background:#b5dccf;opacity:.16"></div>
<div class="mb" style="left:854.1px;top:829.9px;height:13.6px;background:#b5dccf"></div>
<div class="mb" style="left:862.5px;top:803.0px;height:40.5px;background:#9fe0ec;opacity:.16"></div>
<div class="mb" style="left:862.5px;top:825.0px;height:18.5px;background:#9fe0ec"></div>
<div class="t" style="top:827px;font-size:13px;color:#8b94a3;letter-spacing:-0.17px;right:511.2px;text-align:right;">12,278 views</div>
<div class="t" style="top:827px;font-size:13px;color:#8b94a3;letter-spacing:-0.83px;right:461.5px;text-align:right;">0:17s</div>
<div class="t" style="top:827px;font-size:13px;color:#8b94a3;letter-spacing:-0.83px;right:396.2px;text-align:right;">33 RFV</div>
<div class="t" style="top:799px;font-size:24px;color:#2d3540;letter-spacing:-1.33px;right:395.9px;text-align:right;">1,125</div>
<div class="th" style="top:864.0px"><svg width="70.8" height="52.8" viewBox="0 0 71 53" preserveAspectRatio="none" style="display:block"><defs><filter id="tb6" x="0" y="0" width="1" height="1" color-interpolation-filters="sRGB"><feGaussianBlur in="SourceGraphic" stdDeviation="0.8" result="b"/><feTurbulence type="fractalNoise" baseFrequency="0.45" numOctaves="2" seed="8" result="t"/><feColorMatrix in="t" type="matrix" values=".6 .6 .6 0 -.4 .6 .6 .6 0 -.4 .6 .6 .6 0 -.4 0 0 0 0 0.38" result="g"/><feComponentTransfer in="g" result="g2"><feFuncR type="linear" slope="2" intercept="-0.52"/><feFuncG type="linear" slope="2" intercept="-0.52"/><feFuncB type="linear" slope="2" intercept="-0.52"/></feComponentTransfer><feBlend in="g2" in2="b" mode="overlay"/></filter></defs><g filter="url(#tb6)">
<rect x="-3" y="-3" width="77" height="59" fill="#6b4c25"/>
<rect x="-3" y="-3" width="77" height="9.500" fill="#f2dfdf"/>
<rect x="-3" y="6" width="77" height="5" fill="#7c828a"/>
<rect x="-3" y="10" width="77" height="5" fill="#86796c"/>
<rect x="40.500" y="6" width="2" height="6" fill="#5d6670"/>
<rect x="63" y="9" width="4" height="4" fill="#c9b6a2"/>
<rect x="8" y="15.500" width="18" height="3.500" fill="#b79c88"/>
<path d="M36 14h8v10h-8z" fill="#94714e"/>
<path d="M0 19h26v12H0z" fill="#4f3a15"/>
<path d="M44 24h28v20H44z" fill="#5a3d14"/>
<path d="M47 19.500h9v4.500h-9z" fill="#b8644e"/>
<path d="M56 17h14v3H56z" fill="#c7b7a6"/>
<path d="M22 23.500h2.500l3 7.500h-3.500z" fill="#e6d5d8"/>
<path d="M0 30l26 1 11-1v8l-8 12-3 6H-3z" fill="#85817e"/>
<path d="M-3 40h24v14H-3z" fill="#4b4a4f"/><path d="M2 40h2v10H2zM7 40h2v10H7zM12 40h2v10h-2z" fill="#9c948c"/>
<path d="M0 47h20v9H0z" fill="#2e2418"/>
<path d="M28 33l9-3v8l-9 12-2-2z" fill="#b89c82"/>
<path d="M32 30h5v6h-5z" fill="#bfb0a8"/>
<path d="M21 47l7-6 7 1-5 7-9 1z" fill="#4f9a69"/>
<path d="M34 46h38v10H30z" fill="#6c7480"/>
<path d="M35 43h36v2.500H35z" fill="#7a6448"/>
<path d="M48 48l4-6 6 3-1 6-9 1z" fill="#4f9a69"/>
<path d="M61 40h11v3H61z" fill="#c3614b"/>
</g></svg></div>
<div class="t" style="top:874px;font-size:17px;color:#2d3540;letter-spacing:0.53px;left:539.3px;">2020: The Years in Sports</div>
<div class="t" style="top:900px;font-size:13px;color:#7d8797;font-weight:700;letter-spacing:0.74px;left:539.3px;">Wade Warren</div>
<div class="t" style="top:900px;font-size:13px;color:#8b94a3;letter-spacing:-0.23px;left:647.8px;">Jan 6, 12:39</div>
<div class="mb" style="left:829.0px;top:876.2px;height:40.5px;background:#fdcdaa;opacity:.16"></div>
<div class="mb" style="left:829.0px;top:888.7px;height:28.0px;background:#fdcdaa"></div>
<div class="mb" style="left:837.4px;top:876.2px;height:40.5px;background:#fca5a5;opacity:.16"></div>
<div class="mb" style="left:837.4px;top:896.3px;height:20.4px;background:#fca5a5"></div>
<div class="mb" style="left:845.8px;top:876.2px;height:40.5px;background:#c4addb;opacity:.16"></div>
<div class="mb" style="left:845.8px;top:876.2px;height:40.5px;background:#c4addb"></div>
<div class="mb" style="left:854.1px;top:876.2px;height:40.5px;background:#b5dccf;opacity:.16"></div>
<div class="mb" style="left:854.1px;top:903.1px;height:13.6px;background:#b5dccf"></div>
<div class="mb" style="left:862.5px;top:876.2px;height:40.5px;background:#9fe0ec;opacity:.16"></div>
<div class="mb" style="left:862.5px;top:898.2px;height:18.5px;background:#9fe0ec"></div>
<div class="t" style="top:900px;font-size:13px;color:#8b94a3;letter-spacing:0.15px;right:510.9px;text-align:right;">20,274 views</div>
<div class="t" style="top:900px;font-size:13px;color:#8b94a3;letter-spacing:-0.83px;right:461.5px;text-align:right;">0:17s</div>
<div class="t" style="top:900px;font-size:13px;color:#8b94a3;letter-spacing:-0.83px;right:396.2px;text-align:right;">33 RFV</div>
<div class="t" style="top:873px;font-size:24px;color:#2d3540;letter-spacing:1.60px;right:393.0px;text-align:right;">798</div>
<div class="th" style="top:937.2px"><svg width="70.8" height="52.8" viewBox="0 0 71 53" preserveAspectRatio="none" style="display:block"><defs><filter id="tb7" x="0" y="0" width="1" height="1" color-interpolation-filters="sRGB"><feGaussianBlur in="SourceGraphic" stdDeviation="0.8" result="b"/><feTurbulence type="fractalNoise" baseFrequency="0.5" numOctaves="2" seed="9" result="t"/><feColorMatrix in="t" type="matrix" values=".6 .6 .6 0 -.4 .6 .6 .6 0 -.4 .6 .6 .6 0 -.4 0 0 0 0 0.3" result="g"/><feComponentTransfer in="g" result="g2"><feFuncR type="linear" slope="2" intercept="-0.52"/><feFuncG type="linear" slope="2" intercept="-0.52"/><feFuncB type="linear" slope="2" intercept="-0.52"/></feComponentTransfer><feBlend in="g2" in2="b" mode="overlay"/></filter></defs><g filter="url(#tb7)">
<linearGradient id="t7g" x1="0" y1="0" x2="0" y2="1"><stop offset="0" stop-color="#b2b6bc"/><stop offset=".28" stop-color="#d7dadd"/><stop offset=".5" stop-color="#d9dde1"/><stop offset=".62" stop-color="#a4a9b0"/><stop offset="1" stop-color="#b4b9bf"/></linearGradient>
<rect x="-3" y="-3" width="77" height="59" fill="url(#t7g)"/>
<path d="M-3 14.500h12l20 5 20 2.500 14-2.500 1 3-18 2-17-1-20-3-12-1z" fill="#5a8fc1"/>
<path d="M-3 20l14 2 22 3 20-1 12-2 9 2v7H-3z" fill="#dfe3e7"/>
<path d="M-3 28l10-1.500 10-3 10 7.500-7 2.500-23 4z" fill="#39414f"/>
<path d="M8 25l8-2 4 2-8 2z" fill="#9aa1aa"/>
<path d="M55 23l3.500-1.500 1.500 4-4 1.500z" fill="#4a5261"/>
<path d="M62 30l12-3.500v8l-9-1z" fill="#4d5564"/>
<path d="M18 33l30-3 20 3v5l-30 3-20-2z" fill="#9299a2"/>
<path d="M-3 38h77v18H-3z" fill="#aeb3ba" opacity=".8"/>
<path d="M20 38l30-1 10 3-20 3z" fill="#c9cdd3"/>
<path d="M6 43l8-1.500 6 4-3 4-11-1z" fill="#4b4f59"/>
<path d="M17 42l3.500-1 .5 7-4 1z" fill="#e6eef6"/>
<path d="M62 43h12v3H63z" fill="#5a5f69"/>
<path d="M-3 48l20 2 10 4H-3z" fill="#8d939c"/>
<path d="M60 50h14v4H62z" fill="#d3dbe4"/>
</g></svg></div>
<div class="t" style="top:947px;font-size:17px;color:#2d3540;letter-spacing:0.40px;left:539.3px;">First to Get Vaccine: A Black …</div>
<div class="t" style="top:973px;font-size:13px;color:#7d8797;font-weight:700;letter-spacing:0.22px;left:539.3px;">Jacob Jones</div>
<div class="t" style="top:973px;font-size:13px;color:#8b94a3;letter-spacing:-0.25px;left:639.3px;">Dec 14, 3:59</div>
<div class="mb" style="left:829.0px;top:949.4px;height:40.5px;background:#fdcdaa;opacity:.16"></div>
<div class="mb" style="left:829.0px;top:961.9px;height:28.0px;background:#fdcdaa"></div>
<div class="mb" style="left:837.4px;top:949.4px;height:40.5px;background:#fca5a5;opacity:.16"></div>
<div class="mb" style="left:837.4px;top:969.5px;height:20.4px;background:#fca5a5"></div>
<div class="mb" style="left:845.8px;top:949.4px;height:40.5px;background:#c4addb;opacity:.16"></div>
<div class="mb" style="left:845.8px;top:949.4px;height:40.5px;background:#c4addb"></div>
<div class="mb" style="left:854.1px;top:949.4px;height:40.5px;background:#b5dccf;opacity:.16"></div>
<div class="mb" style="left:854.1px;top:976.3px;height:13.6px;background:#b5dccf"></div>
<div class="mb" style="left:862.5px;top:949.4px;height:40.5px;background:#9fe0ec;opacity:.16"></div>
<div class="mb" style="left:862.5px;top:971.4px;height:18.5px;background:#9fe0ec"></div>
<div class="t" style="top:973px;font-size:13px;color:#8b94a3;letter-spacing:0.15px;right:510.9px;text-align:right;">20,274 views</div>
<div class="t" style="top:973px;font-size:13px;color:#8b94a3;letter-spacing:-0.83px;right:461.5px;text-align:right;">0:17s</div>
<div class="t" style="top:973px;font-size:13px;color:#8b94a3;letter-spacing:-0.83px;right:396.2px;text-align:right;">33 RFV</div>
<div class="t" style="top:946px;font-size:24px;color:#2d3540;letter-spacing:1.60px;right:393.0px;text-align:right;">492</div>
<div class="th" style="top:1010.4px;background:#15171c"></div>
</div>
</body>
</html>
